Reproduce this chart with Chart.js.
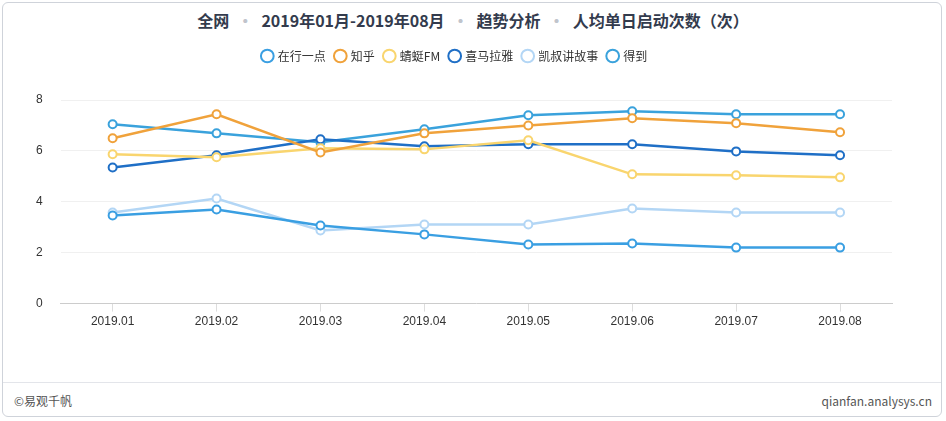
<!DOCTYPE html>
<html><head><meta charset="utf-8">
<script src="https://cdn.jsdelivr.net/npm/chart.js@4"></script>
<style>
body{margin:0;background:#fff;font-family:"Noto Sans CJK SC","Noto Sans",sans-serif;}
#frame{position:absolute;left:2px;top:2px;width:940px;height:415px;border:1px solid #cfd3da;border-radius:6px;box-sizing:border-box;}
#title{position:absolute;left:0;top:8px;width:946px;text-align:center;font-size:16px;font-weight:bold;color:#333b4d;}
#title span{color:#c0c4cc;margin:0 8px;}
#wrap{position:absolute;left:10px;top:40px;width:910px;height:298px;}
#foot{position:absolute;left:3px;top:382px;width:938px;border-top:1px solid #e3e5ea;}
.ft{position:absolute;top:392px;font-size:12px;color:#555;}
</style></head><body>
<div id="frame"></div>
<div id="title">全网<span>•</span>2019年01月-2019年08月<span>•</span>趋势分析<span>•</span>人均单日启动次数（次）</div>
<div id="wrap"><canvas id="myChart"></canvas></div>
<div id="foot"></div>
<div class="ft" style="left:14px">©易观千帆</div>
<div class="ft" style="right:14px">qianfan.analysys.cn</div>
<script>
var months = ['2019.01','2019.02','2019.03','2019.04','2019.05','2019.06','2019.07','2019.08'];
var zaixing = [3.46, 3.70, 3.07, 2.72, 2.32, 2.36, 2.20, 2.20];
var zhihu = [6.50, 7.44, 5.94, 6.69, 7.00, 7.28, 7.09, 6.73];
var qingting = [5.87, 5.75, 6.10, 6.06, 6.42, 5.08, 5.04, 4.96];
var ximalaya = [5.35, 5.83, 6.46, 6.18, 6.26, 6.26, 5.98, 5.83];
var kaishu = [3.58, 4.13, 2.87, 3.11, 3.11, 3.74, 3.58, 3.58];
var dedao = [7.05, 6.69, 6.34, 6.85, 7.40, 7.56, 7.44, 7.44];

function ds(label, data, color){
  return {label: label, data: data, borderColor: color, backgroundColor: '#fff',
    borderWidth: 2.5, pointRadius: 4, pointBorderWidth: 2, pointHoverRadius: 4, tension: 0};
}
// extra gap under the legend
var legendGap = {id: 'legendGap', beforeInit: function(c){
  var fit = c.legend.fit;
  c.legend.fit = function(){ fit.bind(c.legend)(); this.height += 28; };
}};
var ctx = document.getElementById('myChart').getContext('2d');
var chart = new Chart(ctx, {
  type: 'line',
  data: {
    labels: months,
    datasets: [
      ds('在行一点', zaixing, '#3a9fe2'),
      ds('知乎', zhihu, '#f0a23b'),
      ds('蜻蜓FM', qingting, '#f9d56e'),
      ds('喜马拉雅', ximalaya, '#1f6fc6'),
      ds('凯叔讲故事', kaishu, '#b3d6f5'),
      ds('得到', dedao, '#3aa2dc')
    ]
  },
  options: {
    responsive: true, maintainAspectRatio: false, animation: false,
    layout: {padding: {left: 8, right: 28, bottom: 6}},
    plugins: {
      legend: {labels: {usePointStyle: true, pointStyle: 'circle', boxWidth: 9, boxHeight: 9,
        font: {size: 12, family: '"Noto Sans CJK SC"'}, color: '#333', padding: 10}},
      tooltip: {enabled: false}
    },
    scales: {
      x: {offset: true, grid: {display: true, drawOnChartArea: false, tickLength: 8, color: '#ddd'},
        border: {color: '#ccc'}, ticks: {color: '#333', font: {size: 12}}},
      y: {min: 0, max: 8, ticks: {stepSize: 2, color: '#333', font: {size: 12}, padding: 18},
        grid: {color: '#f0f0f0', drawTicks: false}, border: {display: false}}
    }
  },
  plugins: [legendGap]
});
</script>
</body></html>
